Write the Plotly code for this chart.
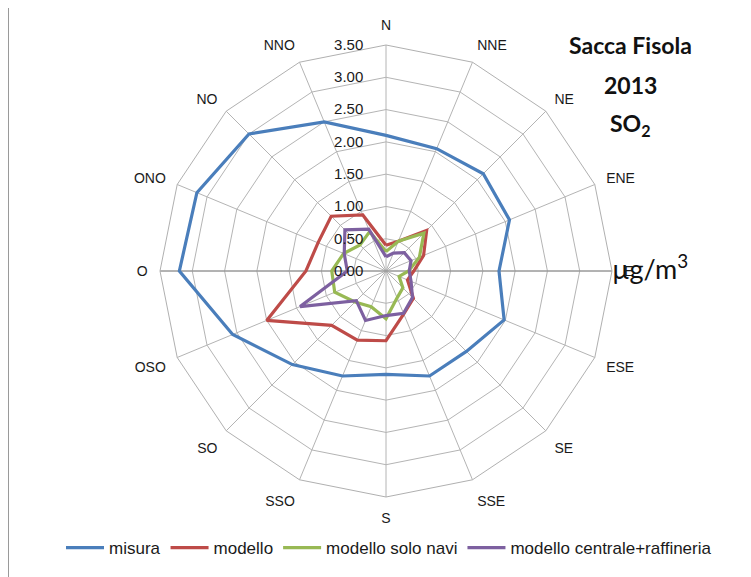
import plotly.graph_objects as go

directions = ["N", "NNE", "NE", "ENE", "E", "ESE", "SE", "SSE",
              "S", "SSO", "SO", "OSO", "O", "ONO", "NO", "NNO"]

misura = [2.10, 2.05, 2.13, 2.07, 1.75, 1.98, 1.76, 1.76,
          1.60, 1.76, 2.05, 2.57, 3.20, 3.17, 3.00, 2.50]
modello = [0.40, 0.50, 0.89, 0.63, 0.43, 0.36, 0.60, 0.72,
           1.08, 1.16, 1.19, 2.00, 1.24, 1.14, 1.20, 0.94]
solo_navi = [0.30, 0.50, 0.83, 0.56, 0.35, 0.22, 0.37, 0.45,
             0.74, 0.60, 0.68, 0.86, 0.84, 0.71, 0.57, 0.66]
centrale_raffineria = [0.22, 0.30, 0.40, 0.42, 0.36, 0.42, 0.58, 0.71,
                       0.69, 0.83, 0.65, 1.44, 0.60, 0.70, 0.90, 0.70]

series = [
    ("misura", misura, "#4A7EBB"),
    ("modello", modello, "#BE4B48"),
    ("modello solo navi", solo_navi, "#98B954"),
    ("modello centrale+raffineria", centrale_raffineria, "#7D60A0"),
]

# page is rendered with the default 8px body margin
OFF = 8
W, H = 751 - OFF, 577 - OFF


def px(x):
    return (x - OFF) / W


def py(y):
    return 1 - (y - OFF) / H


cx, cy, R = 386, 271, 226

fig = go.Figure()

# darker horizontal O-E axis line
fig.add_trace(go.Scatterpolar(
    r=[3.5, 0, 3.5], theta=["O", "N", "E"], mode="lines",
    line=dict(color="#8c8c8c", width=1.2), showlegend=False, hoverinfo="skip"))

for name, vals, color in series:
    fig.add_trace(go.Scatterpolar(
        r=vals + vals[:1], theta=directions + directions[:1],
        mode="lines", name=name,
        line=dict(color=color, width=3.2)))

fig.update_layout(
    width=W, height=H,
    margin=dict(l=0, r=0, t=0, b=0, autoexpand=False),
    paper_bgcolor="white",
    plot_bgcolor="white",
    font=dict(family="Liberation Sans", color="#1a1a1a"),
    polar=dict(
        domain=dict(x=[px(cx - R), px(cx + R)],
                    y=[py(cy + R), py(cy - R)]),
        bgcolor="white",
        gridshape="linear",
        angularaxis=dict(
            categoryorder="array", categoryarray=directions,
            rotation=90, direction="clockwise",
            showline=True, linecolor="#b0b0b0", linewidth=1,
            gridcolor="#b4b4b4", gridwidth=1,
            ticks="outside", ticklen=9, tickcolor="rgba(0,0,0,0)",
            tickfont=dict(size=14, color="#1a1a1a"),
        ),
        radialaxis=dict(
            range=[0, 3.5], dtick=0.5, tickformat=".2f",
            angle=90, side="counterclockwise", tickangle=90,
            showline=False, gridcolor="#b4b4b4", gridwidth=1,
            ticks="outside", ticklen=17, tickcolor="rgba(0,0,0,0)",
            tickfont=dict(size=15, color="#1a1a1a"),
        ),
    ),
    legend=dict(
        orientation="h", x=px(389), xanchor="center",
        y=py(548), yanchor="middle",
        font=dict(size=17, color="#1a1a1a"),
        itemwidth=38,
        bgcolor="rgba(0,0,0,0)",
    ),
    showlegend=True,
)

title_font = dict(family="Lato", size=23, color="#111111")
for txt, yy in [("<b>Sacca Fisola</b>", 45), ("<b>2013</b>", 85), ("<b>SO<sub>2</sub></b>", 125)]:
    fig.add_annotation(text=txt, x=px(630), y=py(yy), xref="paper", yref="paper",
                       xanchor="center", yanchor="middle", showarrow=False, font=title_font)

fig.add_annotation(text="µg/m<sup>3</sup>", x=px(610), y=py(267), xref="paper", yref="paper",
                   xanchor="left", yanchor="middle", showarrow=False,
                   font=dict(family="Lato", size=27, color="#111111"))

fig.add_shape(type="line", xref="paper", yref="paper",
              x0=px(8.5), x1=px(8.5), y0=0, y1=1,
              line=dict(color="#9a9a9a", width=1))

fig.write_html("out.html")
